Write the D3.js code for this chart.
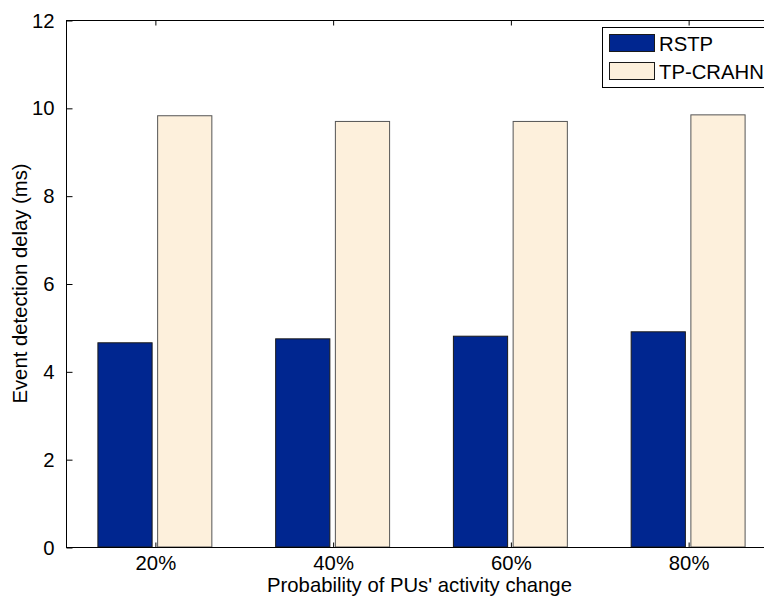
<!DOCTYPE html>
<html>
<head>
<meta charset="utf-8">
<script src="https://cdn.jsdelivr.net/npm/d3@7/dist/d3.min.js"></script>
<style>
  html, body { margin: 0; padding: 0; background: #fff; overflow: hidden; }
  svg { display: block; font-family: "Liberation Sans", Arial, Helvetica, sans-serif; }
</style>
</head>
<body>
<svg id="chart" width="764" height="596"></svg>
<script>
// Event detection delay per probability of PU activity change
const categories = ["20%", "40%", "60%", "80%"];
const seriesNames = ["RSTP", "TP-CRAHN"];
const rstp = [4.65, 4.74, 4.80, 4.90];
const tpCrahn = [9.82, 9.69, 9.69, 9.84];
const yTicks = [0, 2, 4, 6, 8, 10, 12];

const colors = ["#002690", "#fdf0dc"];
const series = [rstp, tpCrahn];
const fontSize = 20.3;

const svg = d3.select("#chart");
const plotLeft = 66, plotRight = 777, plotTop = 20, plotBottom = 547;

// categories sit at positions 1..4, axis spans 0.5..4.5
const x = d3.scaleLinear().domain([0.5, 4.5]).range([plotLeft, plotRight]);
const y = d3.scaleLinear().domain([0, 12]).range([plotBottom, plotTop]);

const barW = 0.305;               // bar width in category units
const offsets = [-0.168, 0.168];  // bar centre offset per series

// bars
series.forEach((vals, si) => {
  svg.append("g").selectAll("rect")
    .data(vals)
    .join("rect")
    .attr("x", (d, i) => x(i + 1 + offsets[si] - barW / 2))
    .attr("y", d => y(d))
    .attr("width", x(barW) - x(0))
    .attr("height", d => y(0) - y(d))
    .attr("fill", colors[si])
    .attr("stroke", si === 0 ? "#1a1a1a" : "#555")
    .attr("stroke-width", 1);
});

// axis box
svg.append("rect")
  .attr("x", plotLeft + 0.5).attr("y", plotTop + 0.5)
  .attr("width", plotRight - plotLeft).attr("height", plotBottom - plotTop)
  .attr("fill", "none").attr("stroke", "#000").attr("stroke-width", 1);

const styleText = g => g.selectAll("text")
  .attr("font-size", fontSize).attr("fill", "#000")
  .attr("font-family", "Liberation Sans, Arial, sans-serif");

// left axis (ticks pointing inward)
const yAxis = d3.axisLeft(y).tickValues(yTicks).tickSize(-6).tickPadding(12).tickFormat(d3.format("d"));
svg.append("g").attr("transform", `translate(${plotLeft + 0.5},0.5)`).call(yAxis)
  .call(g => g.select(".domain").remove())
  .call(styleText);

// bottom axis
const xAxis = d3.axisBottom(x).tickValues([1, 2, 3, 4]).tickSize(-5).tickPadding(8)
  .tickFormat((d, i) => categories[i]);
svg.append("g").attr("transform", `translate(0.5,${plotBottom + 0.5})`).call(xAxis)
  .call(g => g.select(".domain").remove())
  .call(styleText);

// top edge ticks
svg.append("g").attr("transform", `translate(0.5,${plotTop + 0.5})`)
  .call(d3.axisTop(x).tickValues([1, 2, 3, 4]).tickSize(-5).tickFormat(""))
  .call(g => g.select(".domain").remove());

// axis titles
svg.append("text")
  .attr("x", (plotLeft + plotRight) / 2 - 2).attr("y", 592)
  .attr("text-anchor", "middle").attr("font-size", fontSize)
  .text("Probability of PUs' activity change");

svg.append("text")
  .attr("transform", `translate(27,${(plotTop + plotBottom) / 2}) rotate(-90)`)
  .attr("text-anchor", "middle").attr("font-size", fontSize)
  .text("Event detection delay (ms)");

// legend
const lg = svg.append("g").attr("transform", "translate(602,27)");
lg.append("rect").attr("x", 0.5).attr("y", 0.5).attr("width", 175).attr("height", 60)
  .attr("fill", "#fff").attr("stroke", "#000");
seriesNames.forEach((name, i) => {
  const row = lg.append("g").attr("transform", `translate(7,${7 + i * 28})`);
  row.append("rect").attr("x", 0.5).attr("y", 0.5).attr("width", 45).attr("height", 17)
    .attr("fill", colors[i]).attr("stroke", "#1a1a1a");
  row.append("text").attr("x", 50).attr("y", 16.5).attr("font-size", fontSize).text(name);
});
</script>
</body>
</html>
